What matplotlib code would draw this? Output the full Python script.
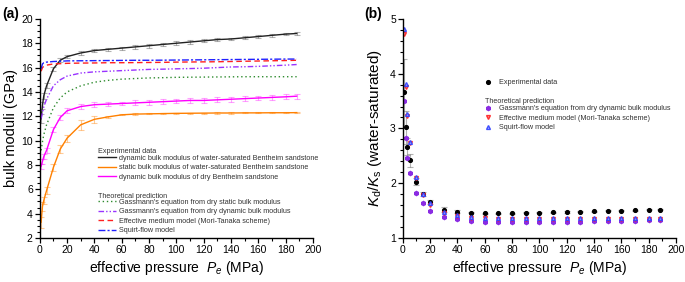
import numpy as np
import matplotlib
matplotlib.use('Agg')
import matplotlib.pyplot as plt
from matplotlib.ticker import MultipleLocator

plt.rcParams['font.family'] = ['Liberation Sans', 'DejaVu Sans']
plt.rcParams['mathtext.fontset'] = 'custom'
plt.rcParams['mathtext.rm'] = 'Liberation Sans'
plt.rcParams['mathtext.it'] = 'Liberation Sans:italic'

# effective pressure (MPa)
pe = [1, 2, 3, 5, 10, 15, 20, 30, 40, 50, 60, 70, 80, 90, 100, 110, 120,
      130, 140, 150, 160, 170, 180, 188]

# (a) experimental bulk moduli (GPa)
k_sat_dyn = [11.8, 12.9, 13.7, 14.5, 15.9, 16.6, 16.9, 17.2, 17.4, 17.5, 17.6, 17.7,
             17.8, 17.9, 18.0, 18.1, 18.2, 18.3, 18.35, 18.45, 18.55, 18.65, 18.75, 18.8]
k_sat_dyn_err = [0.35, 0.3, 0.25, 0.2, 0.15, 0.15, 0.15, 0.13, 0.15, 0.13, 0.13, 0.15,
                 0.15, 0.15, 0.15, 0.15, 0.13, 0.13, 0.12, 0.12, 0.12, 0.12, 0.1, 0.1]
k_sat_sta = [3.3, 4.6, 5.1, 5.9, 7.8, 9.3, 10.2, 11.3, 11.75, 11.95, 12.12, 12.18,
             12.2, 12.22, 12.24, 12.25, 12.26, 12.27, 12.27, 12.28, 12.28, 12.29, 12.29, 12.3]
k_sat_sta_err = [0.45, 0.35, 0.3, 0.3, 0.3, 0.3, 0.3, 0.4, 0.3, 0.1, 0.05, 0.05,
                 0.05, 0.05, 0.05, 0.05, 0.05, 0.05, 0.05, 0.05, 0.05, 0.05, 0.05, 0.05]
k_dry_dyn = [7.9, 8.3, 8.7, 9.2, 10.9, 11.9, 12.45, 12.8, 12.95, 13.0, 13.05, 13.1,
             13.15, 13.2, 13.25, 13.3, 13.3, 13.35, 13.4, 13.45, 13.5, 13.55, 13.6, 13.65]
k_dry_dyn_err = [0.2, 0.2, 0.2, 0.2, 0.2, 0.2, 0.2, 0.2, 0.2, 0.15, 0.15, 0.2,
                 0.2, 0.2, 0.2, 0.2, 0.2, 0.2, 0.2, 0.2, 0.2, 0.2, 0.2, 0.2]

# (a) theoretical predictions (GPa)
k_gass_static = [9.2, 9.9, 10.5, 11.3, 12.7, 13.5, 14.0, 14.5, 14.8, 14.95, 15.05, 15.1,
                 15.15, 15.17, 15.2, 15.21, 15.22, 15.23, 15.24, 15.25, 15.25, 15.25, 15.25, 15.25]
k_gass_dynamic = [11.8, 12.3, 12.8, 13.4, 14.5, 15.0, 15.3, 15.55, 15.65, 15.7, 15.75, 15.8,
                  15.85, 15.87, 15.9, 15.92, 15.95, 16.0, 16.05, 16.07, 16.1, 16.15, 16.2, 16.25]
k_mori_tanaka = [15.7, 16.0, 16.1, 16.2, 16.3, 16.32, 16.35, 16.37, 16.38, 16.4, 16.4, 16.41,
                 16.42, 16.43, 16.45, 16.46, 16.47, 16.48, 16.5, 16.52, 16.54, 16.56, 16.58, 16.6]
k_squirt = [15.9, 16.3, 16.4, 16.45, 16.5, 16.52, 16.55, 16.56, 16.57, 16.58, 16.59, 16.6,
            16.6, 16.61, 16.62, 16.63, 16.64, 16.65, 16.66, 16.67, 16.68, 16.69, 16.7, 16.7]

# (b) Kd/Ks
ratio_exp = [3.67, 3.02, 2.67, 2.42, 2.03, 1.8, 1.66, 1.52, 1.48, 1.46, 1.45, 1.45,
             1.455, 1.46, 1.465, 1.47, 1.475, 1.48, 1.49, 1.495, 1.5, 1.51, 1.515, 1.52]
ratio_exp_err = [0.6, 0.3, 0.15, 0.12, 0.06, 0.04, 0.04, 0.05, 0.03, 0.01, 0.01, 0.01,
                 0.01, 0.01, 0.01, 0.01, 0.01, 0.01, 0.01, 0.01, 0.01, 0.01, 0.01, 0.01]
ratio_gass = [3.5, 2.83, 2.46, 2.18, 1.83, 1.63, 1.5, 1.38, 1.34, 1.31, 1.3, 1.3,
              1.3, 1.3, 1.3, 1.3, 1.3, 1.3, 1.31, 1.31, 1.31, 1.31, 1.32, 1.32]
ratio_mt = [4.72, 3.75, 3.22, 2.73, 2.09, 1.78, 1.6, 1.45, 1.4, 1.37, 1.36, 1.35,
            1.35, 1.35, 1.35, 1.35, 1.35, 1.35, 1.35, 1.35, 1.35, 1.35, 1.35, 1.35]
ratio_sq = [4.82, 3.81, 3.26, 2.76, 2.12, 1.81, 1.63, 1.47, 1.42, 1.39, 1.37, 1.37,
            1.37, 1.37, 1.37, 1.37, 1.37, 1.37, 1.37, 1.37, 1.37, 1.37, 1.37, 1.37]

fig = plt.figure(figsize=(6.85, 2.82), dpi=100)
ax1 = fig.add_axes([0.058, 0.156, 0.399, 0.777])
ax2 = fig.add_axes([0.588, 0.156, 0.399, 0.777])

def style_axis(ax):
    ax.spines['top'].set_visible(False)
    ax.spines['right'].set_visible(False)
    ax.spines['left'].set_linewidth(1.0)
    ax.spines['bottom'].set_linewidth(1.0)
    ax.tick_params(which='major', direction='out', length=3.5, width=0.9, labelsize=7.5, pad=1.5)
    ax.tick_params(which='minor', direction='out', length=2, width=0.8)
    ax.set_xlim(0, 200)
    ax.xaxis.set_major_locator(MultipleLocator(20))
    ax.xaxis.set_minor_locator(MultipleLocator(10))
    ax.set_xlabel('effective pressure  $P_e$ (MPa)', fontsize=10, labelpad=3)

# ---- panel (a)
err_kw = dict(elinewidth=0.8, capsize=2, capthick=0.8, ls='none', alpha=0.45)
ax1.errorbar(pe, k_sat_dyn, yerr=k_sat_dyn_err, color='#555555', **err_kw)
ax1.errorbar(pe, k_sat_sta, yerr=k_sat_sta_err, color='#ff8c1a', **err_kw)
ax1.errorbar(pe, k_dry_dyn, yerr=k_dry_dyn_err, color='#ff33ff', **err_kw)
l1, = ax1.plot(pe, k_sat_dyn, color='#222222', lw=1.0)
l2, = ax1.plot(pe, k_sat_sta, color='#ff8000', lw=1.0)
l3, = ax1.plot(pe, k_dry_dyn, color='#ff00ff', lw=1.0)
l4, = ax1.plot(pe, k_gass_static, color='#2e8b2e', lw=1.0, ls=(0, (1, 2)))
l5, = ax1.plot(pe, k_gass_dynamic, color='#9933ff', lw=1.0, ls=(0, (4, 1.5, 1, 1.5, 1, 1.5)))
l6, = ax1.plot(pe, k_mori_tanaka, color='#ff2020', lw=1.0, ls=(0, (4, 2.5)))
l7, = ax1.plot(pe, k_squirt, color='#2020ff', lw=1.0, ls=(0, (5, 1.5, 1.5, 1.5)))

style_axis(ax1)
ax1.set_ylim(2, 20)
ax1.yaxis.set_major_locator(MultipleLocator(2))
ax1.yaxis.set_minor_locator(MultipleLocator(0.5))
ax1.set_ylabel('bulk moduli (GPa)', fontsize=10.5, labelpad=2)

leg_kw = dict(frameon=False, fontsize=5.2, handlelength=2.4, handletextpad=0.4,
              labelspacing=0.35, borderaxespad=0, borderpad=0, loc='upper left')
ax1.text(0.215, 0.387, 'Experimental data', transform=ax1.transAxes, fontsize=5.2, color='#333333')
lg1 = ax1.legend([l1, l2, l3],
                 ['dynamic bulk modulus of water-saturated Bentheim sandstone',
                  'static bulk modulus of water-saturated Bentheim sandstone',
                  'dynamic bulk modulus of dry Bentheim sandstone'],
                 bbox_to_anchor=(0.215, 0.38), **leg_kw)
for t in lg1.get_texts():
    t.set_color('#333333')
ax1.add_artist(lg1)
ax1.text(0.215, 0.182, 'Theoretical prediction', transform=ax1.transAxes, fontsize=5.2, color='#333333')
lg2 = ax1.legend([l4, l5, l6, l7],
                 ["Gassmann's equation from dry static bulk modulus",
                  "Gassmann's equation from dry dynamic bulk modulus",
                  'Effective medium model (Mori-Tanaka scheme)',
                  'Squirt-flow model'],
                 bbox_to_anchor=(0.215, 0.18), **leg_kw)
for t in lg2.get_texts():
    t.set_color('#333333')

# ---- panel (b)
ax2.errorbar(pe, ratio_exp, yerr=ratio_exp_err, color='#666666', elinewidth=0.8,
             capsize=2, capthick=0.8, ls='none', alpha=0.5)
m1, = ax2.plot(pe, ratio_exp, 'o', color='black', ms=2.7, ls='none')
m2, = ax2.plot(pe, ratio_gass, 'h', color='#8a2be2', ms=3.0, ls='none')
m3, = ax2.plot(pe, ratio_mt, 'v', color='#ff2020', mfc='#ff9090', ms=2.8, ls='none', alpha=0.9)
m4, = ax2.plot(pe, ratio_sq, '^', color='#3040ff', mfc='#a0b0ff', ms=2.8, ls='none', alpha=0.9)

style_axis(ax2)
ax2.set_ylim(1, 5)
ax2.yaxis.set_major_locator(MultipleLocator(1))
ax2.yaxis.set_minor_locator(MultipleLocator(0.2))
ax2.set_ylabel(r'$K_{\rm d}/K_{\rm s}$ (water-saturated)', fontsize=11, labelpad=4)

leg_kw2 = dict(frameon=False, fontsize=5.2, handlelength=1.0, handletextpad=1.0,
               labelspacing=0.35, borderaxespad=0, borderpad=0, loc='upper left')
lg3 = ax2.legend([m1], ['Experimental data'], bbox_to_anchor=(0.3, 0.725), **leg_kw2)
for t in lg3.get_texts():
    t.set_color('#333333')
ax2.add_artist(lg3)
ax2.text(0.3, 0.618, 'Theoretical prediction', transform=ax2.transAxes, fontsize=5.2, color='#333333')
lg4 = ax2.legend([m2, m3, m4],
                 ["Gassmann's equation from dry dynamic bulk modulus",
                  'Effective medium model (Mori-Tanaka scheme)',
                  'Squirt-flow model'],
                 bbox_to_anchor=(0.3, 0.607), **leg_kw2)
for t in lg4.get_texts():
    t.set_color('#333333')

fig.text(0.003, 0.975, '(a)', fontsize=10, fontweight='bold', va='top')
fig.text(0.532, 0.975, '(b)', fontsize=10, fontweight='bold', va='top')

fig.savefig('out.png', dpi=100)
